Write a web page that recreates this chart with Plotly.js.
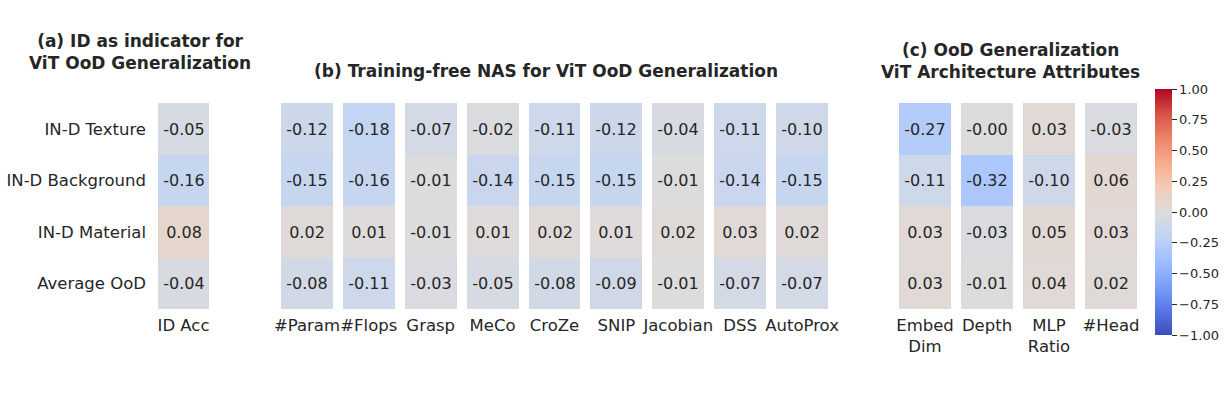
<!DOCTYPE html>
<html>
<head>
<meta charset="utf-8">
<script src="https://cdn.plot.ly/plotly-3.0.1.min.js"></script>
<style>html,body{margin:0;padding:0;background:#fff;}#chart{width:1225px;height:412px;}</style>
</head>
<body>
<div id="chart"></div>
<script>
const rows = ['IN-D Texture', 'IN-D Background', 'IN-D Material', 'Average OoD'];

const colsA = ['ID Acc'];
const valsA = [[-0.05], [-0.16], [0.08], [-0.04]];

const colsB = ['#Param', '#Flops', 'Grasp', 'MeCo', 'CroZe', 'SNIP', 'Jacobian', 'DSS', 'AutoProx'];
const valsB = [
  [-0.12, -0.18, -0.07, -0.02, -0.11, -0.12, -0.04, -0.11, -0.10],
  [-0.15, -0.16, -0.01, -0.14, -0.15, -0.15, -0.01, -0.14, -0.15],
  [0.02, 0.01, -0.01, 0.01, 0.02, 0.01, 0.02, 0.03, 0.02],
  [-0.08, -0.11, -0.03, -0.05, -0.08, -0.09, -0.01, -0.07, -0.07]
];

const colsC = ['Embed<br>Dim', 'Depth', 'MLP<br>Ratio', '#Head'];
const valsC = [
  [-0.27, -0.003, 0.03, -0.03],
  [-0.11, -0.32, -0.10, 0.06],
  [0.03, -0.03, 0.05, 0.03],
  [0.03, -0.01, 0.04, 0.02]
];

const titleA = '<b>(a) ID as indicator for<br>ViT OoD Generalization</b>';
const titleB = '<b>(b) Training-free NAS for ViT OoD Generalization</b>';
const titleC = '<b>(c) OoD Generalization<br>ViT Architecture Attributes</b>';

const cbTicks = [-1, -0.75, -0.5, -0.25, 0, 0.25, 0.5, 0.75, 1];

const coolwarm = [
  [0.0, '#3b4cc0'], [0.1, '#5977e3'], [0.2, '#7b9ff9'], [0.3, '#9ebeff'],
  [0.4, '#c0d4f5'], [0.5, '#dddcdc'], [0.6, '#f2cbb7'], [0.7, '#f7ac8e'],
  [0.8, '#ee8468'], [0.9, '#d65244'], [1.0, '#b40426']
];

const W = 1225, H = 412;
const FONT = 'DejaVu Sans, sans-serif';
const TXT = '#262626';

function fmt(v) { return (v < 0 ? '-' : '') + Math.abs(v).toFixed(2); }
function textOf(z) { return z.map(r => r.map(fmt)); }

function hm(cols, z, xa, ya) {
  return {
    type: 'heatmap', x: cols, y: rows, z: z,
    text: textOf(z), texttemplate: '%{text}',
    textfont: {family: FONT, size: 16, color: TXT},
    coloraxis: 'coloraxis', xgap: 10, ygap: 0,
    xaxis: xa, yaxis: ya, hoverinfo: 'skip'
  };
}

const data = [
  hm(colsA, valsA, 'x', 'y'),
  hm(colsB, valsB, 'x2', 'y2'),
  hm(colsC, valsC, 'x3', 'y3')
];

const yDom = [1 - 309 / H, 1 - 103 / H];
function xax(a, b) {
  return {domain: [a / W, b / W], showgrid: false, zeroline: false, showline: false,
    ticks: '', tickangle: 0, tickfont: {family: FONT, size: 16.5, color: TXT}, fixedrange: true, ticklabelstandoff: 4};
}
function yax(show, anchor) {
  return {domain: yDom, autorange: 'reversed', showgrid: false, zeroline: false, showline: false,
    ticks: '', showticklabels: show, tickfont: {family: FONT, size: 16.5, color: TXT},
    anchor: anchor, ticklabelstandoff: 6};
}

function title(text, cx, cy) {
  return {text: text, x: cx / W, y: 1 - cy / H, xref: 'paper', yref: 'paper', showarrow: false,
    xanchor: 'center', yanchor: 'middle', align: 'center',
    font: {family: FONT, size: 17, color: TXT}};
}

const layout = {
  width: W, height: H,
  margin: {l: 0, r: 0, t: 0, b: 0},
  paper_bgcolor: '#fff', plot_bgcolor: '#fff',
  font: {family: FONT, color: TXT},
  xaxis: Object.assign(xax(153, 214), {anchor: 'y'}),
  yaxis: yax(true, 'x'),
  xaxis2: Object.assign(xax(276, 833), {anchor: 'y2'}),
  yaxis2: yax(false, 'x2'),
  xaxis3: Object.assign(xax(894, 1142), {anchor: 'y3'}),
  yaxis3: yax(false, 'x3'),
  coloraxis: {
    cmin: -1, cmax: 1, colorscale: coolwarm,
    colorbar: {
      x: 1155 / W, xanchor: 'left', y: 1 - 212 / H, yanchor: 'middle',
      lenmode: 'pixels', len: 246, thicknessmode: 'pixels', thickness: 17,
      outlinewidth: 0, ticks: 'outside', ticklen: 5, tickcolor: TXT,
      tickvals: cbTicks, tickformat: '.2f',
      tickfont: {family: FONT, size: 13, color: TXT}, xpad: 0, ypad: 0
    }
  },
  annotations: [
    title(titleA, 140, 52),
    title(titleB, 546, 71),
    title(titleC, 1010, 61)
  ]
};

Plotly.newPlot('chart', data, layout, {displayModeBar: false, staticPlot: true});
</script>
</body>
</html>
